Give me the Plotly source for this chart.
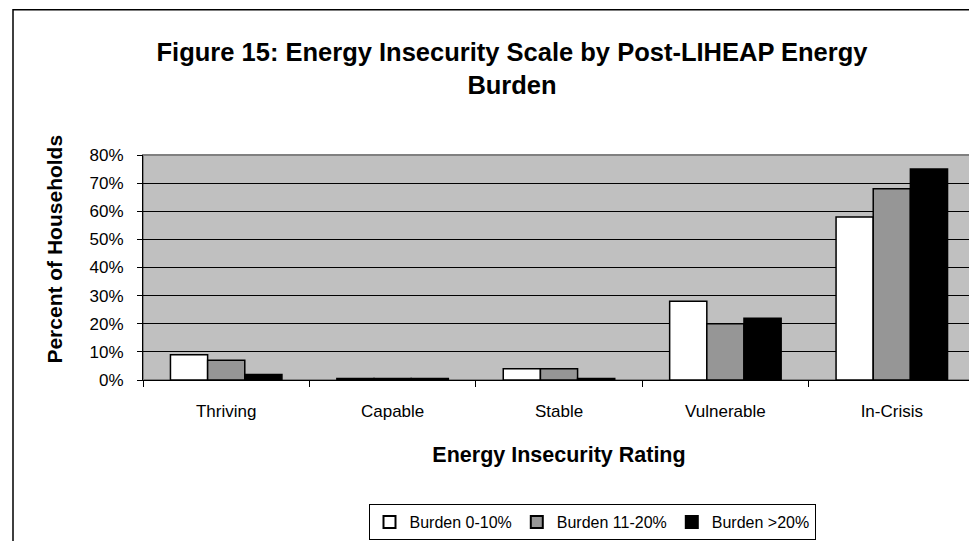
import plotly.graph_objects as go

categories = ["Thriving", "Capable", "Stable", "Vulnerable", "In-Crisis"]
burden_0_10 = [9, 0.5, 4, 28, 58]
burden_11_20 = [7, 0.5, 4, 20, 68]
burden_over_20 = [2, 0.5, 0.5, 22, 75]
y_ticks = [0, 10, 20, 30, 40, 50, 60, 70, 80]
y_tick_labels = [f"{v}%" for v in y_ticks]

FONT = "Arial, 'Liberation Sans', sans-serif"

series = [
    ("Burden 0-10%", burden_0_10, "#FFFFFF"),
    ("Burden 11-20%", burden_11_20, "#969696"),
    ("Burden >20%", burden_over_20, "#000000"),
]

fig = go.Figure()
for name, vals, col in series:
    fig.add_trace(go.Bar(
        x=categories, y=vals, name=name,
        marker=dict(color=col, line=dict(color="#000000", width=1.5)),
    ))

W, H = 977, 541
L, R, T, B = 135, 10, 147, 168
pw, ph = W - L - R, H - T - B

def px_x(p):
    return (p - L) / pw

def px_y(p):
    return (H - B - p) / ph

fig.update_layout(
    width=W, height=H,
    margin=dict(l=L, r=R, t=T, b=B),
    paper_bgcolor="#FFFFFF",
    plot_bgcolor="#C0C0C0",
    barmode="group",
    bargap=0.33,
    bargroupgap=0,
    font=dict(family=FONT, size=17, color="#000000"),
    title=dict(
        text="<b>Figure 15: Energy Insecurity Scale by Post-LIHEAP Energy<br>Burden</b>",
        x=px_x(504), xref="paper", xanchor="center",
        y=1 - 53 / H, yanchor="middle",
        font=dict(family=FONT, size=25.5, color="#000000"),
    ),
    showlegend=True,
    legend=dict(
        orientation="h",
        x=px_x(584), xanchor="center",
        y=px_y(496), yanchor="top",
        bordercolor="#000000", borderwidth=1,
        bgcolor="#FFFFFF",
        font=dict(family=FONT, size=16),
        traceorder="normal",
        itemwidth=30,
        itemsizing="constant",
    ),
    xaxis=dict(
        type="category",
        showline=True, linecolor="#000000", linewidth=1,
        ticks="outside", ticklen=6, tickcolor="#000000",
        tickson="boundaries",
        ticklabelstandoff=16,
        showgrid=False,
        title=dict(text="<b>Energy Insecurity Rating</b>", standoff=26,
                   font=dict(family=FONT, size=21.5)),
    ),
    yaxis=dict(
        range=[0, 80],
        tickvals=y_ticks, ticktext=y_tick_labels,
        showline=True, linecolor="#000000", linewidth=1,
        ticks="outside", ticklen=5, tickcolor="#000000",
        ticklabelstandoff=10,
        showgrid=True, gridcolor="#000000", gridwidth=1,
        zeroline=False,
    ),
    annotations=[
        dict(text="<b>Percent of Households</b>", textangle=-90,
             xref="paper", yref="paper", x=px_x(47), y=px_y(242),
             xanchor="center", yanchor="middle", showarrow=False,
             font=dict(family=FONT, size=21)),
    ],
    shapes=[
        dict(type="rect", xref="paper", yref="paper", x0=0, x1=1, y0=0, y1=1,
             line=dict(color="#808080", width=2), layer="below"),
        dict(type="rect", xref="paper", yref="paper",
             x0=px_x(5), x1=px_x(W + 20), y0=px_y(H + 20), y1=px_y(1),
             line=dict(color="#000000", width=1.5)),
    ],
)

fig.write_html("out.html")
